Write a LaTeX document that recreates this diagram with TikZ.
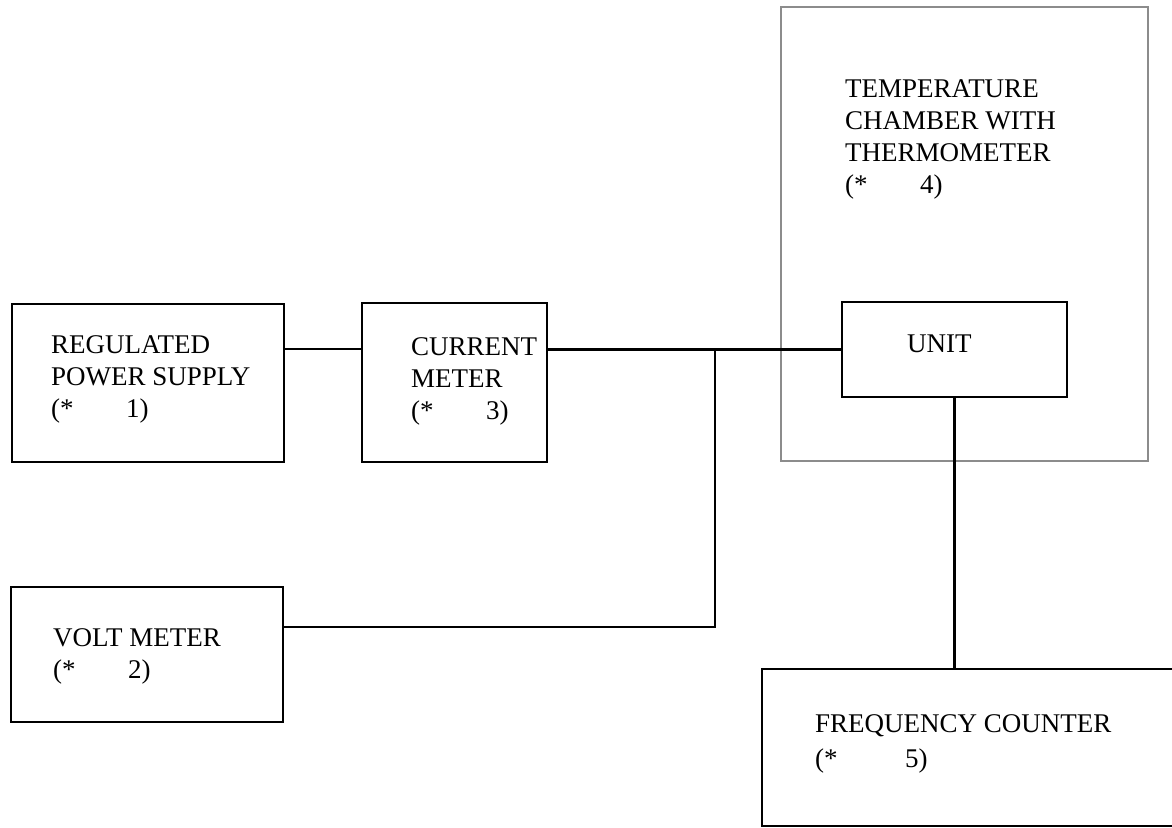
\documentclass[tikz,border=0pt]{standalone}
\usepackage{fontspec}
\setmainfont{Liberation Serif}
\usetikzlibrary{calc}
\newcommand\mystrut{\rule{0pt}{20pt}}
\newcommand\starno[2][75pt]{\makebox[#1][l]{(*}#2)}
\begin{document}
\begin{tikzpicture}[x=1pt,y=-1pt,
  box/.style={draw, line width=2.7pt, inner sep=0pt, outer sep=0pt, anchor=north west},
  chamberbox/.style={draw=black!45, line width=1.3pt, inner sep=0pt, outer sep=0pt, anchor=north west},
  wire/.style={line width=2.7pt},
  lbl/.style={anchor=north west, inner sep=0pt, align=left, font=\fontsize{27}{32}\selectfont}]
\useasboundingbox (0,0) rectangle (1172,827);
% boxes
\node[chamberbox, minimum width=367pt, minimum height=454pt] (ch) at (781,7) {};
\node[box, minimum width=272pt, minimum height=158pt] (ps) at (12,304) {};
\node[box, minimum width=185pt, minimum height=159pt] (cm) at (362,303) {};
\node[box, minimum width=272pt, minimum height=135pt] (vm) at (11,587) {};
\node[box, minimum width=225pt, minimum height=95pt] (unit) at (842,302) {};
\node[box, minimum width=430pt, minimum height=157pt] (fc) at (762,669) {};
% labels
\node[lbl] (pslbl) at (51,333) {\mystrut REGULATED\\POWER SUPPLY\\\starno{1}};
\node[lbl] (cmlbl) at (411,335) {\mystrut CURRENT\\METER\\\starno{3}};
\node[lbl] (vmlbl) at (53,626) {\mystrut VOLT METER\\\starno{2}};
\node[lbl] (chlbl) at (845,77) {\mystrut TEMPERATURE\\CHAMBER WITH\\THERMOMETER\\\starno{4}};
\node[lbl] (unitlbl) at (907,332) {\mystrut UNIT};
\node[lbl] (fclbl) at (815,712) {\mystrut FREQUENCY COUNTER\\[3pt]\starno[90pt]{5}};
% connectors
\coordinate (psout) at ([yshift=-45pt]ps.north east);
\coordinate (vmout) at ([yshift=-40pt]vm.north east);
\coordinate (j) at (715,349);
\draw[wire] (psout) -- (psout -| cm.west);
\draw[wire] (unit.west) -- (unit.west -| cm.east);
\draw[wire] (vmout) -| (j);
\draw[wire] (unit.south) -- (unit.south |- fc.north);
\end{tikzpicture}
\end{document}
